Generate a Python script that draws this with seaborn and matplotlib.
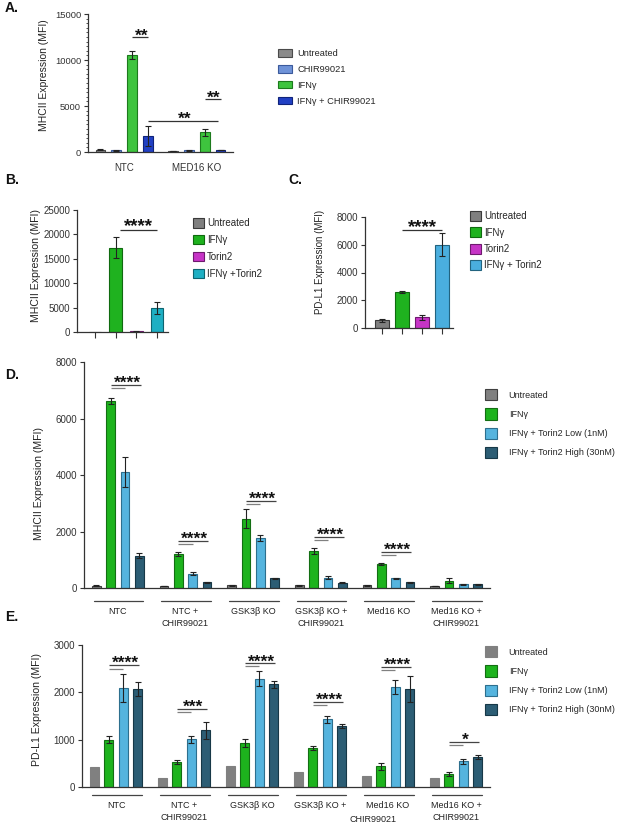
import numpy as np
import pandas as pd
import matplotlib
matplotlib.use("Agg")
import matplotlib.pyplot as plt
import matplotlib.transforms as mtrans
from matplotlib.patches import Patch
from matplotlib.ticker import MultipleLocator
import seaborn as sns

sns.set_theme(style="ticks")
plt.rcParams['font.family'] = ['Liberation Sans', 'DejaVu Sans']
plt.rcParams['axes.edgecolor'] = '#333333'
plt.rcParams['xtick.color'] = '#333333'
plt.rcParams['ytick.color'] = '#333333'

W, H = 617, 825

# ---- panel A ----
a_groups = ["NTC", "MED16 KO"]
a_treats = ["Untreated", "CHIR99021", "IFNγ", "IFNγ + CHIR99021"]
a_vals = [[250, 200, 10540, 1740], [140, 180, 2140, 220]]
a_errs = [[40, 40, 400, 1100], [20, 30, 400, 30]]
a_colors = ["#8a8a8a", "#6f93d8", "#3ec43e", "#2140c4"]
a_edges = ["#4a4a4a", "#3b5a9c", "#1d7a1d", "#10237a"]

# ---- panel B ----
b_treats = ["Untreated", "IFNγ", "Torin2", "IFNγ +Torin2"]
b_vals = [40, 17300, 150, 4850]
b_errs = [0, 2200, 60, 1250]
b_colors = ["#7f7f7f", "#1fb21f", "#c634c6", "#1eafc3"]
b_edges = ["#3a3a3a", "#0f6a0f", "#6e1a6e", "#0e6470"]

# ---- panel C ----
c_treats = ["Untreated", "IFNγ", "Torin2", "IFNγ + Torin2"]
c_vals = [560, 2600, 770, 6010]
c_errs = [120, 60, 170, 840]
c_colors = ["#7f7f7f", "#1fb21f", "#c634c6", "#4aaede"]
c_edges = ["#3a3a3a", "#0f6a0f", "#6e1a6e", "#22637f"]

# ---- panels D / E ----
de_groups = ["NTC", "NTC + CHIR99021", "GSK3β KO", "GSK3β KO + CHIR99021",
             "Med16 KO", "Med16 KO + CHIR99021"]
de_treats = ["Untreated", "IFNγ", "IFNγ + Torin2 Low (1nM)", "IFNγ + Torin2 High (30nM)"]
de_colors = ["#808080", "#1db31d", "#55b4de", "#2c5d74"]
de_edges = ["#404040", "#136e13", "#2d6f8e", "#173847"]

d_vals = [[80, 6620, 4100, 1150], [70, 1190, 510, 210], [95, 2450, 1760, 350],
          [90, 1300, 360, 180], [90, 860, 340, 200], [60, 250, 130, 130]]
d_errs = [[15, 120, 520, 100], [10, 70, 50, 20], [10, 330, 100, 20],
          [10, 110, 55, 15], [10, 40, 15, 15], [5, 90, 10, 10]]
d_sig = ["****", "****", "****", "****", "****", ""]
d_sig_short = [7080, 1560, 2970, 1700, 1170, 0]
d_sig_long = [7190, 1680, 3080, 1810, 1290, 0]

e_vals = [[430, 1000, 2090, 2070], [195, 525, 1010, 1195], [435, 930, 2290, 2170],
          [315, 820, 1430, 1290], [240, 440, 2110, 2065], [185, 270, 540, 630]]
e_errs = [[0, 75, 300, 140], [0, 45, 75, 175], [0, 75, 160, 70],
          [0, 40, 80, 35], [0, 75, 150, 270], [0, 45, 60, 45]]
e_sig = ["****", "***", "****", "****", "****", "*"]
e_sig_short = [2500, 1580, 2560, 1730, 2470, 890]
e_sig_long = [2580, 1650, 2615, 1800, 2540, 960]


def long_df(groups, treats, rows, errs):
    recs = []
    for g, vals, es in zip(groups, rows, errs):
        for t, v, e in zip(treats, vals, es):
            recs.append({"group": g, "treat": t, "value": v, "err": e})
    return pd.DataFrame(recs)


def rect(l, r, t, b):
    return [l / W, 1 - b / H, (r - l) / W, (b - t) / H]


def draw_bars(ax, df, x, treats, colors, edges, width, gap, groups):
    sns.barplot(data=df, x=x, y="value", hue="treat", order=groups, hue_order=treats,
                palette=dict(zip(treats, colors)), width=width, gap=gap, saturation=1,
                errorbar=None, linewidth=0.8, legend=False, ax=ax)
    pos = {}
    for t, ec, cont in zip(treats, edges, ax.containers):
        for p in cont.patches:
            p.set_edgecolor(ec)
            cx = p.get_x() + p.get_width() / 2
            pos[(groups[int(round(cx))], t)] = cx
    for _, r in df.iterrows():
        if r["err"] > 0:
            ax.errorbar(pos[(r[x], r["treat"])], r["value"], yerr=r["err"], fmt="none",
                        ecolor="#222222", elinewidth=0.8, capsize=2, capthick=0.8)
    return pos


def sig(ax, x0, x1, y, text, color="#333333", size=12.5, off=-2.2, lw=0.9):
    ax.plot([x0, x1], [y, y], color=color, lw=lw, solid_capstyle="butt")
    if text:
        tr = ax.transData + mtrans.ScaledTranslation(0, off / 72, ax.figure.dpi_scale_trans)
        ax.text((x0 + x1) / 2 + 0.02, y, text, ha="center", va="baseline",
                fontsize=size, fontweight="bold", color="#111111", transform=tr)


def legend(ax, treats, colors, edges, x, y, fs, hl, hh, tp, ls):
    handles = [Patch(facecolor=c, edgecolor=e, linewidth=0.8, label=t)
               for t, c, e in zip(treats, colors, edges)]
    ax.legend(handles=handles, loc="upper left", bbox_to_anchor=(x / W, 1 - y / H),
              bbox_transform=ax.figure.transFigure, frameon=False, fontsize=fs,
              handlelength=hl, handleheight=hh, handletextpad=tp, labelspacing=ls,
              borderpad=0, borderaxespad=0)


def style(ax, fs=7):
    sns.despine(ax=ax)
    ax.set_xlabel("")
    ax.tick_params(axis="y", labelsize=fs, length=3, width=0.8, pad=2)
    for s in ax.spines.values():
        s.set_linewidth(0.9)


def ylab(ax, text, fs, xpx, ypx, box):
    l, r, t, b = box
    ax.set_ylabel(text, fontsize=fs, color="#222222")
    ax.yaxis.set_label_coords((xpx - l) / (r - l), (b - ypx) / (b - t))


fig = plt.figure(figsize=(W / 100, H / 100), dpi=100)
fig.patch.set_facecolor("white")

# ================= A =================
box_a = (88, 233, 14, 152)
ax = fig.add_axes(rect(*box_a))
df_a = long_df(a_groups, a_treats, a_vals, a_errs)
pa = draw_bars(ax, df_a, "group", a_treats, a_colors, a_edges, 0.88, 0.4, a_groups)
ax.set_ylim(0, 15000)
ax.set_xlim(-0.5, 1.5)
ax.set_yticks([0, 5000, 10000, 15000])
ax.yaxis.set_minor_locator(MultipleLocator(500))
ax.tick_params(axis="y", which="minor", length=1.5, width=0.6)
style(ax, 6.8)
ax.tick_params(axis="x", length=0, pad=8, labelsize=7)
ylab(ax, "MHCII Expression (MFI)", 7.5, 49, 75, box_a)
sig(ax, pa[("NTC", "IFNγ")], pa[("NTC", "IFNγ + CHIR99021")], 12460, "**")
sig(ax, pa[("NTC", "IFNγ + CHIR99021")], pa[("MED16 KO", "IFNγ + CHIR99021")] - 0.04, 3400, "**")
sig(ax, pa[("MED16 KO", "IFNγ")], pa[("MED16 KO", "IFNγ + CHIR99021")], 5730, "**")
legend(ax, a_treats, a_colors, a_edges, 278, 49, 6.7, 1.5, 0.86, 0.55, 0.75)

# ================= B =================
box_b = (77, 168, 210, 332)
ax = fig.add_axes(rect(*box_b))
df_b = long_df(b_treats, b_treats, [[v] for v in b_vals], [[e] for e in b_errs])
df_b["treat"] = df_b["group"]
pb = draw_bars(ax, df_b, "group", b_treats, b_colors, b_edges, 0.62, 0, b_treats)
ax.set_ylim(0, 25000)
ax.set_xlim(-0.87, 3.53)
ax.set_yticks(np.arange(0, 25001, 5000))
style(ax, 7)
ax.tick_params(axis="x", length=4, width=0.8, labelbottom=False)
ylab(ax, "MHCII Expression (MFI)", 7.6, 41, 266, box_b)
sig(ax, pb[("IFNγ", "IFNγ")] + 0.2, pb[("IFNγ +Torin2", "IFNγ +Torin2")], 20900, "****",
    size=13.5, off=-1)
legend(ax, b_treats, b_colors, b_edges, 193, 218, 7, 1.13, 1.13, 0.3, 0.7)

# ================= C =================
box_c = (365, 453, 217, 328)
ax = fig.add_axes(rect(*box_c))
df_c = long_df(c_treats, c_treats, [[v] for v in c_vals], [[e] for e in c_errs])
df_c["treat"] = df_c["group"]
pc = draw_bars(ax, df_c, "group", c_treats, c_colors, c_edges, 0.7, 0, c_treats)
ax.set_ylim(0, 8000)
ax.set_xlim(-0.85, 3.55)
ax.set_yticks(np.arange(0, 8001, 2000))
style(ax, 7)
ax.tick_params(axis="x", length=4, width=0.8, labelbottom=False)
ylab(ax, "PD-L1 Expression (MFI)", 7, 325, 262, box_c)
sig(ax, pc[("IFNγ", "IFNγ")], pc[("IFNγ + Torin2", "IFNγ + Torin2")], 7040, "****",
    size=13.5, off=-1)
legend(ax, c_treats, c_colors, c_edges, 470, 211, 7, 1.13, 1.2, 0.3, 0.62)


# ================= D / E =================
def de_panel(box, vals, errs, ymax, step, label, lab_x, lab_y, sig_txt, s_short, s_long,
             line_px, lab_px, leg_y, untreated_edge, labels, extra=None):
    l, r, t, b = box
    ax = fig.add_axes(rect(*box))
    df = long_df(de_groups, de_treats, vals, errs)
    edges = list(de_edges)
    if untreated_edge is not None:
        edges[0] = untreated_edge
    p = draw_bars(ax, df, "group", de_treats, de_colors, edges, 0.85, 0.39, de_groups)
    ax.set_ylim(0, ymax)
    ax.set_xlim(-0.5, 5.5)
    ax.set_yticks(np.arange(0, ymax + 1, step))
    style(ax, 7)
    ax.tick_params(axis="x", length=0, labelbottom=False)
    ylab(ax, label, 7.6, lab_x, lab_y, box)
    for g, txt, ys, yl in zip(de_groups, sig_txt, s_short, s_long):
        if not txt:
            continue
        x0 = p[(g, de_treats[1])]
        sig(ax, x0, p[(g, de_treats[2])], ys, "", color="#808080")
        sig(ax, x0, p[(g, de_treats[3])] + 0.02, yl, txt, color="#444444")
    blend = mtrans.blended_transform_factory(ax.transData, ax.transAxes)
    for i, (g, lab) in enumerate(zip(de_groups, labels)):
        x0 = p[(g, de_treats[0])] - 0.04
        x1 = p[(g, de_treats[3])] + 0.06
        yl = (b - line_px) / (b - t)
        ax.plot([x0, x1], [yl, yl], color="#444444", lw=0.9, transform=blend, clip_on=False)
        ax.text(i, (b - lab_px) / (b - t), lab, ha="center", va="top", fontsize=6.5,
                linespacing=1.45, transform=blend, color="#222222")
    if extra:
        ex, etxt, ey = extra
        ax.text(ex, (b - ey) / (b - t), etxt, ha="center", va="top", fontsize=6.5,
                transform=blend, color="#222222")
    legend(ax, de_treats, de_colors, edges, 485, leg_y, 6.5, 1.33, 1.55, 1.3, 0.88)
    return ax


d_labels = [g.replace(" + ", " +\n") for g in de_groups]
de_panel((84, 490, 362, 588), d_vals, d_errs, 8000, 2000, "MHCII Expression (MFI)",
         44, 483, d_sig, d_sig_short, d_sig_long, 601, 607, 389, None, d_labels)

# E: second line of "GSK3β KO +" sits off-centre in the original figure
e_labels = list(d_labels)
e_labels[3] = "GSK3β KO +"
de_panel((82, 490, 645, 787), e_vals, e_errs, 3000, 1000, "PD-L1 Expression (MFI)",
         42, 710, e_sig, e_sig_short, e_sig_long, 795, 801, 646, "#808080", e_labels,
         extra=(3.78, "CHIR99021", 815))

# panel letters
for letter, xp, yp in [("A.", 5, 8), ("B.", 5, 180), ("C.", 288, 180),
                       ("D.", 5, 375), ("E.", 5, 617)]:
    fig.text(xp / W, 1 - yp / H, letter, fontsize=10, fontweight="bold",
             ha="left", va="center", color="#111111")

fig.savefig("out.png", dpi=100, facecolor="white")
